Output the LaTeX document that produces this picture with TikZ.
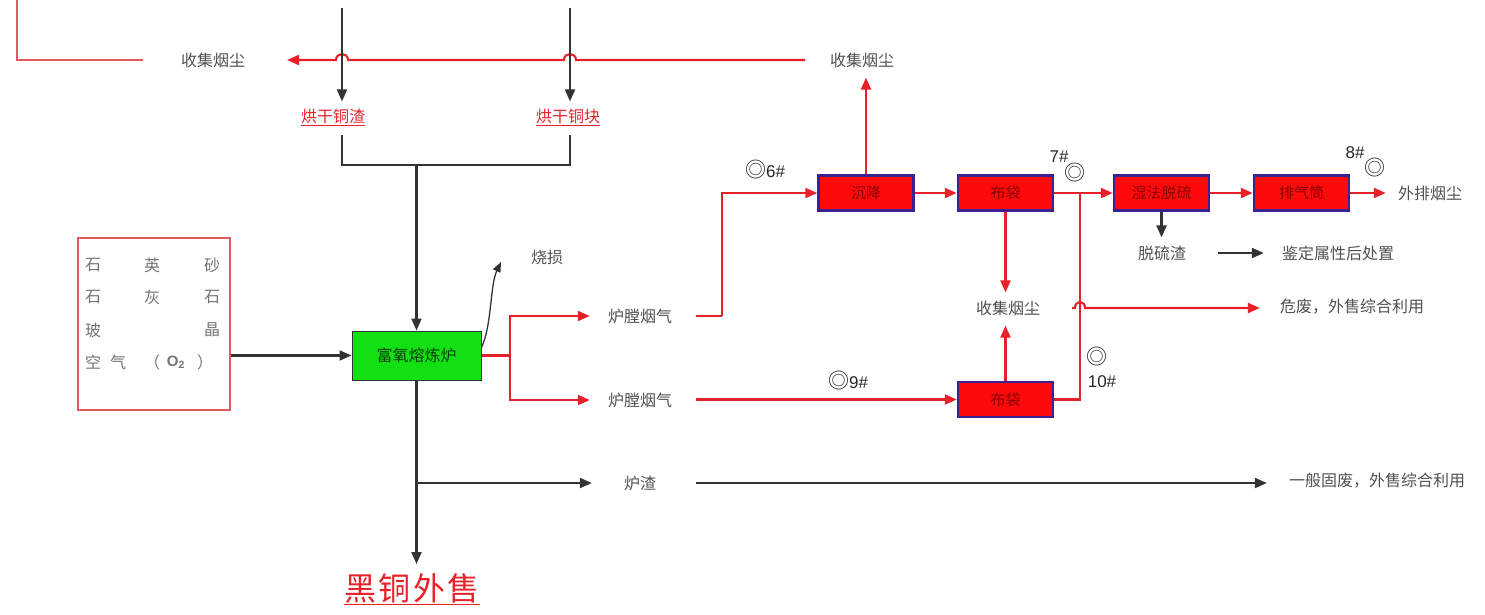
\documentclass[tikz,border=0pt]{standalone}
\usepackage{fontspec}
\newfontfamily\cjk{Noto Sans CJK SC}
\newfontfamily\cjkwide[LetterSpace=8]{Noto Sans CJK SC}
\newfontfamily\mksans{Liberation Sans}
\usetikzlibrary{arrows.meta,calc}
\definecolor{lred}{HTML}{E8202A}
\definecolor{lgray}{HTML}{333333}
\definecolor{tgray}{HTML}{505050}
\definecolor{bblue}{HTML}{3A2090}
\definecolor{bred}{HTML}{FF0A0A}
\definecolor{bgreen}{HTML}{12E012}
\definecolor{dred}{HTML}{8A0000}
\definecolor{pred}{HTML}{E05A64}
\newcommand{\bigring}{{\cjk\fontsize{21}{21}\selectfont ◎}}
\begin{document}
\begin{tikzpicture}[x=1pt,y=-1pt,
 lbl/.style={font=\cjk\fontsize{16}{18}\selectfont, text=tgray, inner sep=0pt},
 rbox/.style={draw=bblue, line width=2.5pt, fill=bred, minimum width=95pt, minimum height=35pt, inner sep=0pt, font=\cjk\fontsize{15}{16}\selectfont, text=dred},
 bl/.style={draw=lgray, line width=2.1pt},
 rl/.style={draw=lred, line width=2.1pt},
 tip/.style={-{Triangle[length=12pt,width=10pt]}},
 rlink/.style={font=\cjk\fontsize{16}{18}\selectfont, text=lred, inner sep=0pt},
 mk/.style={font=\mksans\fontsize{17}{19}\selectfont, text=black!85, inner sep=0pt},
 ptx/.style={font=\cjk\fontsize{16}{18}\selectfont, text=tgray!80, inner sep=0pt}]
\useasboundingbox (0,0) rectangle (1485,614);

% labels
\node[lbl] (c1) at (213,60) {收集烟尘};
\node[lbl] (c2) at (862,60) {收集烟尘};
\node[rlink] (d1) at (333,117) {\underline{烘干铜渣}};
\node[rlink] (d2) at (568,117) {\underline{烘干铜块}};
\node[lbl] (loss) at (547,257) {烧损};
\node[lbl] (f1) at (640,316) {炉膛烟气};
\node[lbl] (f2) at (640,400) {炉膛烟气};
\node[lbl] (slag) at (640,483) {炉渣};
\node[lbl] (gen) at (1377,481) {一般固废，外售综合利用};
\node[lbl] (haz) at (1352,307) {危废，外售综合利用};
\node[lbl] (ds) at (1162,253) {脱硫渣};
\node[lbl] (idf) at (1338,253) {鉴定属性后处置};
\node[lbl] (out) at (1430,193) {外排烟尘};
\node[lbl] (c3) at (1008,308) {收集烟尘};
\node[rlink, font=\cjkwide\fontsize{32}{36}\selectfont] (cu) at (412,589) {\underline{黑铜外售}};

% furnace and raw-material panel
\node[draw=lgray, fill=bgreen, line width=1pt, minimum width=129pt, minimum height=49pt,
      font=\cjk\fontsize{16}{18}\selectfont, text=green!25!black] (fur) at (416.5,355.5) {富氧熔炼炉};
\node[draw=pred, line width=1.8pt, minimum width=152pt, minimum height=172pt] (raw) at (154,324) {};
\node[ptx] (p1) at (93,265) {石};
\node[ptx] (p2) at (152,265) {英};
\node[ptx] (p3) at (212,265) {砂};
\node[ptx] (p4) at (93,297) {石};
\node[ptx] (p5) at (152,297) {灰};
\node[ptx] (p6) at (212,297) {石};
\node[ptx] (p7) at (93,330) {玻};
\node[ptx] (p8) at (212,330) {晶};
\node[ptx] (p9) at (93,362) {空};
\node[ptx] (p10) at (118,362) {气};
\node[ptx] (p11) at (152,362) {（};
\node[ptx, font=\mksans\bfseries\fontsize{15}{18}\selectfont] (p12) at (176,362) {O\textsubscript{2}};
\node[ptx] (p13) at (205,362) {）};

% process boxes
\node[rbox] (s1) at (866,193) {沉降};
\node[rbox] (s2) at (1005.5,193) {布袋};
\node[rbox] (s3) at (1161.5,193) {湿法脱硫};
\node[rbox] (s4) at (1301.5,193) {排气筒};
\node[rbox] (s5) at (1005.5,399.5) {布袋};

% monitoring marks
\node[mk] (m6) at (765,170) {\bigring6\#};
\node[mk] (m7) at (1059,157) {7\#};
\node[mk] (m7c) at (1075,173) {\bigring};
\node[mk] (m8) at (1355,153) {8\#};
\node[mk] (m8c) at (1375,168) {\bigring};
\node[mk] (m9) at (848,381) {\bigring9\#};
\node[mk] (m10c) at (1097,357) {\bigring};
\node[mk] (m10) at (1102,382) {10\#};

% coordinates
\coordinate (tla) at (17,0);
\coordinate (tlb) at (143,60);
\coordinate (rs) at (805,60);
\coordinate (re) at (287,60);
\coordinate (v1) at (342,8);
\coordinate (v2) at (570,8);
\coordinate (j1) at (342,135);
\coordinate (j2) at (570,135);
\coordinate (jm) at (416.5,165);
\coordinate (lossend) at (501,262);
\coordinate (rb) at (510,355.5);
\coordinate (k1) at (722,316);
\coordinate (k2) at (1080,193);
\coordinate (hs) at (1072,308);
\coordinate (cutip) at (416.5,564);
\coordinate (sb) at (416.5,483);

% top dust line
\draw[rl, draw=pred] (tla) |- (tlb);
\draw[rl,tip] (rs) -- (576,60) .. controls (576,52) and (564,52) .. (564,60)
   -- (348,60) .. controls (348,52) and (336,52) .. (336,60) -- (re);

% dried materials
\draw[bl,tip] (v1) -- ($(v1|-d1.north)+(0,-7)$);
\draw[bl,tip] (v2) -- ($(v2|-d2.north)+(0,-7)$);
\draw[bl] (j1) |- (j2 |- jm) -- (j2);
\draw[bl,tip] (jm) -- (fur.north);
\draw[bl,tip] (raw.east |- fur) -- (fur.west);
\draw[draw=lgray, line width=1.3pt, -{Triangle[length=10pt,width=8pt]}]
   ($(fur.east)+(0,-8)$) .. controls (492,325) and (490,285) .. (lossend);

% flue gas
\draw[rl] (fur.east) -- (rb);
\draw[rl,tip] (rb) |- ($(f1.west)+(-18,0)$);
\draw[rl,tip] (rb) |- ($(f2.west)+(-18,0)$);
\draw[rl] ($(f1.east)+(24,0)$) -- (k1);
\draw[rl,tip] (k1) |- (s1.west);
\draw[rl,tip] (s1.north) -- ($(s1.north |- c2.south)+(0,10)$);
\draw[rl,tip] (s1) -- (s2);
\draw[rl,tip] (s2) -- (s3);
\draw[rl,tip] (s3) -- (s4);
\draw[rl,tip] (s4.east) -- ($(out.west)+(-12,0)$);
\draw[bl,tip] (s3.south) -- ($(s3.south |- ds.north)+(0,-8)$);
\draw[bl,tip] ($(ds.east)+(32,0)$) -- ($(idf.west)+(-18,0)$);
\draw[rl,tip] (s2.south) -- ($(s2.south |- c3.north)+(0,-8)$);
\draw[rl,tip] (s5.north) -- ($(s5.north |- c3.south)+(0,10)$);
\draw[rl,tip] ($(f2.east |- s5.west)+(24,0)$) -- (s5.west);
\draw[rl] (s5.east) -| (k2);
\draw[rl,tip] (hs) -- (1075,308) .. controls (1075,300) and (1085,300) .. (1085,308)
   -- ($(haz.west |- hs)+(-20,0)$);

% slag and black copper
\draw[bl,tip] (fur.south) -- (cutip);
\draw[bl,tip] (sb) -- ($(slag.west |- sb)+(-32,0)$);
\draw[bl,tip] ($(slag.east |- sb)+(40,0)$) -- ($(gen.west |- sb)+(-22,0)$);
\end{tikzpicture}
\end{document}
